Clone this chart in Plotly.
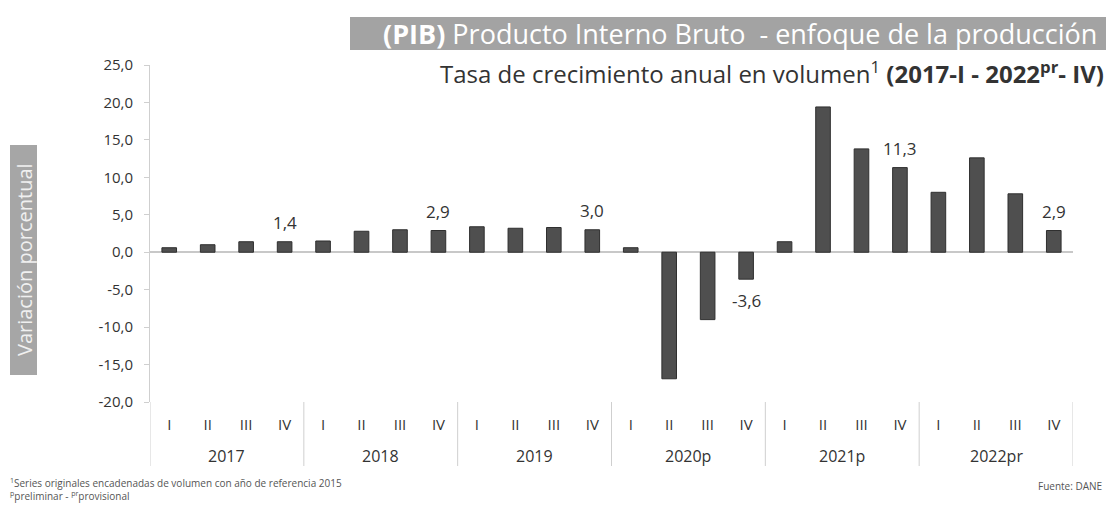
import plotly.graph_objects as go

# ---- data ----
years = ["2017", "2018", "2019", "2020p", "2021p", "2022pr"]
quarters = ["I", "II", "III", "IV"]
values = [
    0.6, 1.0, 1.4, 1.4,      # 2017
    1.5, 2.8, 3.0, 2.9,      # 2018
    3.4, 3.2, 3.3, 3.0,      # 2019
    0.6, -16.9, -9.0, -3.6,  # 2020p
    1.4, 19.4, 13.8, 11.3,   # 2021p
    8.0, 12.6, 7.8, 2.9,     # 2022pr
]
y_ticks = [-20, -15, -10, -5, 0, 5, 10, 15, 20, 25]

# ---- layout geometry (page pixels; the page body has an 8px margin) ----
OFF = 8
W, H = 1114 - OFF, 517 - OFF
PLOT_L, PLOT_R, PLOT_T, PLOT_B = 150, 1073, 65, 402   # page px
L = PLOT_L - OFF
R = W - (PLOT_R - OFF)
T = PLOT_T - OFF
B = H - (PLOT_B - OFF)
PW, PH = W - L - R, H - T - B


def px_x(x):
    return (x - OFF - L) / PW


def px_y(y):
    return (H - B - (y - OFF)) / PH


def fmt(v):
    return f"{v:.1f}".replace(".", ",")


n = len(values)
xs = list(range(n))
qlabels = [quarters[i % 4] for i in xs]

FONT = "Open Sans"
DARK = "#333333"

fig = go.Figure()
fig.add_trace(go.Bar(
    x=xs, y=values, width=0.38,
    marker=dict(color="#4f4f4f", line=dict(color="#2f2f2f", width=1)),
    hoverinfo="skip",
))

shapes = []
# year dividers
for k in range(len(years) + 1):
    shapes.append(dict(type="line", xref="x", yref="paper",
                       x0=4 * k - 0.5, x1=4 * k - 0.5,
                       y0=0, y1=px_y(466),
                       line=dict(color="#cfcfcf", width=1)))
# title banner
shapes.append(dict(type="rect", xref="paper", yref="paper",
                   x0=px_x(350), x1=px_x(1125), y0=px_y(50), y1=px_y(17),
                   fillcolor="#a3a3a3", line=dict(width=0), layer="below"))
# y-axis title box
shapes.append(dict(type="rect", xref="paper", yref="paper",
                   x0=px_x(10), x1=px_x(37), y0=px_y(375), y1=px_y(145),
                   fillcolor="#a6a6a6", line=dict(width=0), layer="below"))

annotations = []
# value labels on the fourth quarter of each year
for i, v in enumerate(values):
    if quarters[i % 4] == "IV":
        annotations.append(dict(x=i, y=v, xref="x", yref="y", showarrow=False,
                                text=fmt(v), xanchor="center",
                                yanchor="bottom" if v >= 0 else "top",
                                yshift=6 if v >= 0 else -8,
                                font=dict(family=FONT, size=17, color=DARK)))
for k, yr in enumerate(years):
    annotations.append(dict(x=4 * k + 1.5, xref="x", y=px_y(456), yref="paper",
                            text=yr, showarrow=False, xanchor="center", yanchor="middle",
                            font=dict(family=FONT, size=16, color=DARK)))
annotations += [
    dict(x=px_x(1099), y=px_y(33), xref="paper", yref="paper", showarrow=False,
         xanchor="right", yanchor="middle",
         text="<b>(PIB)</b> Producto Interno Bruto  - enfoque de la producción",
         font=dict(family=FONT, size=27, color="white")),
    dict(x=px_x(1106), y=px_y(72), xref="paper", yref="paper", showarrow=False,
         xanchor="right", yanchor="middle",
         text="Tasa de crecimiento anual en volumen<sup>1</sup> <b>(2017-I - 2022<sup>pr</sup>- IV)</b>",
         font=dict(family=FONT, size=24, color=DARK)),
    dict(x=px_x(24), y=px_y(260), xref="paper", yref="paper", showarrow=False,
         xanchor="center", yanchor="middle", textangle=-90,
         text="Variación porcentual",
         font=dict(family=FONT, size=20, color="#f0f0f0")),
    dict(x=px_x(8), y=px_y(483), xref="paper", yref="paper", showarrow=False,
         xanchor="left", yanchor="middle",
         text="<sup>1</sup>Series originales encadenadas de volumen con año de referencia 2015",
         font=dict(family=FONT, size=10, color="#555555")),
    dict(x=px_x(8), y=px_y(496), xref="paper", yref="paper", showarrow=False,
         xanchor="left", yanchor="middle",
         text="<sup>p</sup>preliminar - <sup>pr</sup>provisional",
         font=dict(family=FONT, size=10, color="#555555")),
    dict(x=px_x(1104), y=px_y(486), xref="paper", yref="paper", showarrow=False,
         xanchor="right", yanchor="middle",
         text="Fuente: DANE",
         font=dict(family=FONT, size=10, color="#555555")),
]

fig.update_layout(
    width=W, height=H,
    margin=dict(l=L, r=R, t=T, b=B),
    paper_bgcolor="white", plot_bgcolor="white",
    showlegend=False,
    shapes=shapes, annotations=annotations,
    font=dict(family=FONT, color=DARK),
    xaxis=dict(range=[-0.5, n - 0.5], tickmode="array", tickvals=xs, ticktext=qlabels,
               showgrid=False, zeroline=False, showline=False, ticks="",
               ticklabelstandoff=12,
               tickfont=dict(family=FONT, size=15, color=DARK)),
    yaxis=dict(range=[-20, 25], tickmode="array", tickvals=y_ticks,
               ticktext=[fmt(v) for v in y_ticks],
               showgrid=False, zeroline=True, zerolinecolor="#c8c8c8", zerolinewidth=1.5,
               showline=True, linecolor="#cfcfcf", linewidth=1,
               ticks="outside", ticklen=5, tickcolor="#cfcfcf",
               ticklabelstandoff=8,
               tickfont=dict(family=FONT, size=15, color=DARK)),
)

fig.write_html("out.html")
